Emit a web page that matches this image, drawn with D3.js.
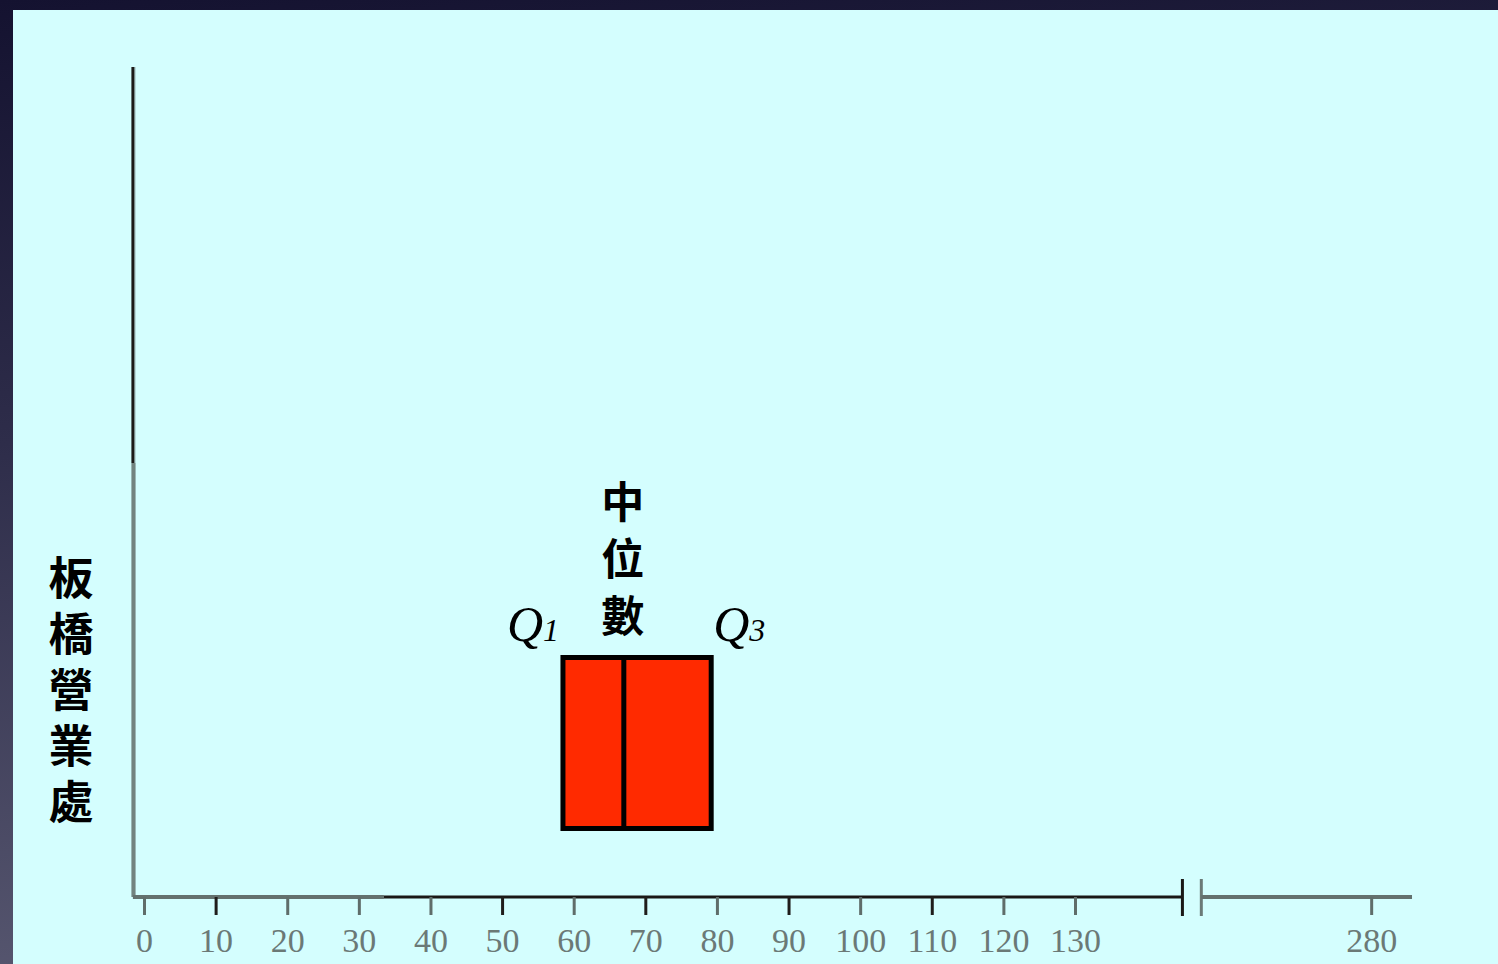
<!DOCTYPE html>
<html>
<head>
<meta charset="utf-8">
<script src="https://cdn.jsdelivr.net/npm/d3@7"></script>
<style>
  html, body { margin: 0; padding: 0; background: #141230; }
  svg { display: block; }
</style>
</head>
<body>
<script>
// Box plot summary for the Banqiao office
const quartiles = { q1: 58.5, median: 67, q3: 79.2 };
const tickValues = [0, 10, 20, 30, 40, 50, 60, 70, 80, 90, 100, 110, 120, 130];
const farTickValues = [280];
const yLabelText = "板橋營業處";
const medianText = "中位數";

const W = 1498, H = 964;
const svg = d3.select("body").append("svg").attr("width", W).attr("height", H);

const defs = svg.append("defs");
const bg = defs.append("linearGradient").attr("id", "bg").attr("x1", 0).attr("y1", 0).attr("x2", 0.15).attr("y2", 1);
bg.append("stop").attr("offset", "0%").attr("stop-color", "#141230");
bg.append("stop").attr("offset", "45%").attr("stop-color", "#2e2d4a");
bg.append("stop").attr("offset", "100%").attr("stop-color", "#56566f");
svg.append("rect").attr("width", W).attr("height", H).attr("fill", "url(#bg)");

// light panel
svg.append("rect").attr("x", 13).attr("y", 10).attr("width", W - 13).attr("height", H - 10).attr("fill", "#d4fefe");

// scales: main segment and the segment after the axis break
const x = d3.scaleLinear().domain([0, 130]).range([144, 1075]);
const xFar = d3.scaleLinear().domain([255, 285]).range([1192, 1407]);
const axisY = 897;
const yTop = 67;
const y0 = x(-1.55);

const g = svg.append("g");

// y axis (upper part dark, lower part grey)
g.append("line").attr("x1", y0 + 2).attr("x2", y0 + 2).attr("y1", yTop).attr("y2", axisY)
  .attr("stroke", "#b4d6d6").attr("stroke-width", 2);
g.append("line").attr("x1", y0).attr("x2", y0).attr("y1", yTop).attr("y2", 463)
  .attr("stroke", "#1c1a18").attr("stroke-width", 3);
g.append("line").attr("x1", y0 + 0.5).attr("x2", y0 + 0.5).attr("y1", 463).attr("y2", axisY)
  .attr("stroke", "#72837f").attr("stroke-width", 4);

// x axis main segment
g.append("line").attr("x1", y0).attr("x2", x(33.5)).attr("y1", axisY).attr("y2", axisY)
  .attr("stroke", "#63716e").attr("stroke-width", 4);
g.append("line").attr("x1", x(33.5)).attr("x2", x(145)).attr("y1", axisY).attr("y2", axisY)
  .attr("stroke", "#1a1816").attr("stroke-width", 3);
// break marks
g.append("line").attr("x1", x(145)).attr("x2", x(145)).attr("y1", 879).attr("y2", 916)
  .attr("stroke", "#1a1816").attr("stroke-width", 3);
g.append("line").attr("x1", xFar(256.3)).attr("x2", xFar(256.3)).attr("y1", 879).attr("y2", 916)
  .attr("stroke", "#6b7a77").attr("stroke-width", 3);
// far segment
g.append("line").attr("x1", xFar(256.3)).attr("x2", xFar(285.7)).attr("y1", axisY).attr("y2", axisY)
  .attr("stroke", "#63716e").attr("stroke-width", 4);

// ticks and labels via d3 axes
const axisMain = d3.axisBottom(x).tickValues(tickValues).tickSize(18).tickPadding(13).tickFormat(d3.format("d"));
const axisFar = d3.axisBottom(xFar).tickValues(farTickValues).tickSize(18).tickPadding(13).tickFormat(d3.format("d"));

function styleAxis(sel) {
  sel.select(".domain").remove();
  sel.selectAll(".tick line").attr("stroke", d => (d >= 50 && d <= 120 && d % 20 !== 0) || d === 10 ? "#1f1d1b" : "#5f6d6a").attr("stroke-width", 3);
  sel.selectAll(".tick text")
    .attr("font-family", "'Liberation Serif', 'DejaVu Serif', serif")
    .attr("font-size", 34)
    .attr("fill", "#6b7976")
    .attr("dy", "0.71em");
}
g.append("g").attr("transform", `translate(0,${axisY})`).call(axisMain).call(styleAxis);
g.append("g").attr("transform", `translate(0,${axisY})`).call(axisFar).call(styleAxis);

// box
const boxTop = 657.5, boxBottom = 828.5;
g.append("rect")
  .attr("x", x(quartiles.q1)).attr("y", boxTop)
  .attr("width", x(quartiles.q3) - x(quartiles.q1)).attr("height", boxBottom - boxTop)
  .attr("fill", "#ff2a00").attr("stroke", "#000").attr("stroke-width", 5);
g.append("line")
  .attr("x1", x(quartiles.median)).attr("x2", x(quartiles.median))
  .attr("y1", boxTop).attr("y2", boxBottom)
  .attr("stroke", "#000").attr("stroke-width", 5);

// Q1 / Q3 labels
function qLabel(xc, sub) {
  const t = g.append("text").attr("x", xc).attr("y", 641)
    .attr("font-family", "'Liberation Serif', serif").attr("font-style", "italic")
    .attr("fill", "#000").attr("text-anchor", "middle");
  t.append("tspan").attr("font-size", 50).text("Q");
  t.append("tspan").attr("font-size", 32).text(sub);
}
qLabel(x(quartiles.q1) - 30, "1");
qLabel(x(quartiles.q3) + 28, "3");

// vertical (top-to-bottom) labels
function vertical(text, xc, yTopEdge, size, spacing) {
  g.append("text")
    .attr("x", xc)
    .attr("y", yTopEdge)
    .style("writing-mode", "vertical-rl")
    .style("text-orientation", "upright")
    .style("letter-spacing", spacing + "px")
    .attr("font-family", "'Noto Sans CJK TC', 'Noto Sans CJK SC', sans-serif")
    .attr("font-weight", 700)
    .attr("font-size", size)
    .attr("fill", "#000")
    .text(text);
}
vertical(medianText, x(quartiles.median) - 1, 480, 43, 14);
vertical(yLabelText, 71, 555, 45, 11);
</script>
</body>
</html>
